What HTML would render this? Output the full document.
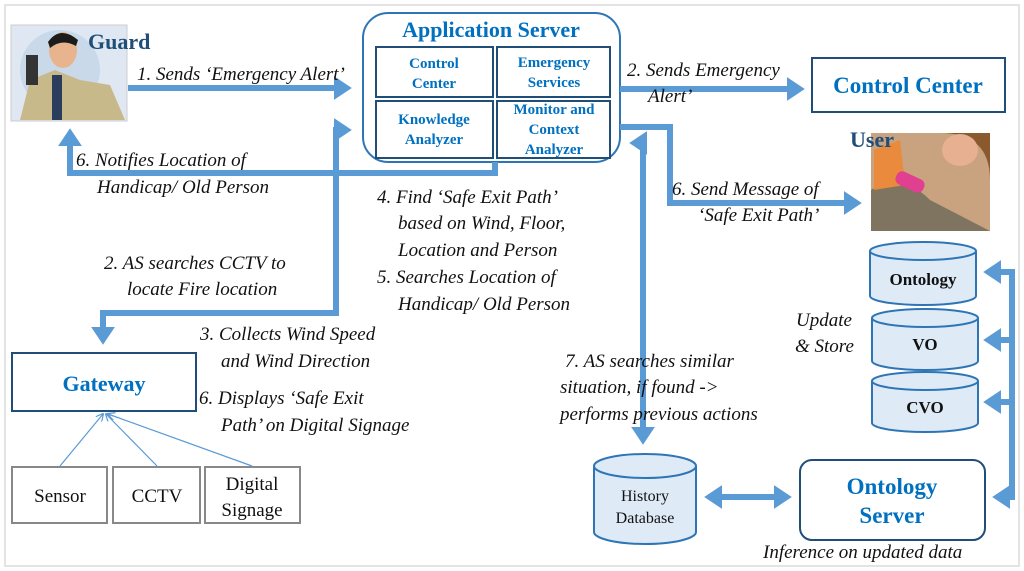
<!DOCTYPE html>
<html><head><meta charset="utf-8"><style>
html,body{margin:0;padding:0;background:#fff;}
svg{display:block;}
.it{font-family:"Liberation Serif",serif;font-style:italic;font-size:19px;fill:#111;}
.bl{font-family:"Liberation Serif",serif;font-weight:bold;fill:#0070C0;}
.sub{font-family:"Liberation Serif",serif;font-weight:bold;fill:#0070C0;font-size:15px;text-anchor:middle;}
.rg{font-family:"Liberation Serif",serif;font-size:19px;fill:#111;text-anchor:middle;}
</style></head><body>
<svg width="1024" height="571" viewBox="0 0 1024 571" xmlns="http://www.w3.org/2000/svg">
<defs>
<marker id="ah" markerWidth="4" markerHeight="4" refX="2.2" refY="2" orient="auto" markerUnits="strokeWidth"><path d="M0,0 L3,2 L0,4 z" fill="#5B9BD5"/></marker>
<marker id="ahs" markerWidth="4" markerHeight="4" refX="2.2" refY="2" orient="auto-start-reverse" markerUnits="strokeWidth"><path d="M0,0 L3,2 L0,4 z" fill="#5B9BD5"/></marker>
<marker id="thin" markerWidth="8" markerHeight="8" refX="7" refY="4" orient="auto" markerUnits="userSpaceOnUse"><path d="M0,0 L8,4 L0,8" fill="none" stroke="#5B9BD5" stroke-width="1.2"/></marker>
</defs>
<rect x="5" y="5" width="1014" height="561" fill="#fff" stroke="#e3e3e3" stroke-width="2"/>

<!-- Guard image -->
<rect x="11" y="25" width="116" height="96" fill="#dfe8f2" stroke="#ccc"/>
<circle cx="60" cy="70" r="40" fill="#c9d9ea"/>
<path d="M20,120 L30,80 L55,70 L80,80 L110,85 L125,120 z" fill="#c8b98a"/>
<rect x="52" y="75" width="10" height="45" fill="#2b3d5c"/>
<ellipse cx="63" cy="50" rx="14" ry="18" fill="#e7b48e"/>
<path d="M48,42 Q60,25 78,40 L76,46 Q62,38 50,48 z" fill="#1b1b1b"/>
<rect x="26" y="55" width="12" height="30" fill="#333"/>
<text x="88" y="49" font-family="Liberation Serif" font-weight="bold" font-size="22" fill="#1F4E79">Guard</text>

<!-- App server -->
<rect x="363" y="13" width="257" height="149" rx="25" fill="#fff" stroke="#2E75B6" stroke-width="2"/>
<text x="491" y="37" class="bl" font-size="22" text-anchor="middle">Application Server</text>
<rect x="376" y="47" width="117" height="50" fill="#fff" stroke="#1F4E79" stroke-width="2"/>
<rect x="497" y="47" width="113" height="50" fill="#fff" stroke="#1F4E79" stroke-width="2"/>
<rect x="376" y="101" width="117" height="57" fill="#fff" stroke="#1F4E79" stroke-width="2"/>
<rect x="497" y="101" width="113" height="57" fill="#fff" stroke="#1F4E79" stroke-width="2"/>
<text class="sub"><tspan x="434" y="68">Control</tspan><tspan x="434" y="88">Center</tspan></text>
<text class="sub"><tspan x="554" y="67">Emergency</tspan><tspan x="554" y="87">Services</tspan></text>
<text class="sub"><tspan x="434" y="124">Knowledge</tspan><tspan x="434" y="144">Analyzer</tspan></text>
<text class="sub"><tspan x="554" y="114">Monitor and</tspan><tspan x="554" y="134">Context</tspan><tspan x="554" y="154">Analyzer</tspan></text>

<!-- Control center -->
<rect x="812" y="58" width="193" height="54" fill="#fff" stroke="#1F4E79" stroke-width="2"/>
<text x="908" y="93" class="bl" font-size="23" text-anchor="middle">Control Center</text>

<!-- User image -->
<rect x="871" y="133" width="119" height="98" fill="#c9a27f"/>
<path d="M871,231 L871,190 Q900,170 930,200 L990,231 z" fill="#7f7460"/>
<path d="M940,133 Q990,133 990,180 L990,133 z" fill="#8a5a2e"/>
<ellipse cx="960" cy="150" rx="18" ry="16" fill="#e6b091"/>
<path d="M874,150 L900,140 L905,185 L874,190 z" fill="#e98a3c"/>
<rect x="895" y="175" width="30" height="14" rx="6" fill="#e0408f" transform="rotate(25 910 182)"/>
<text x="850" y="147" font-family="Liberation Serif" font-weight="bold" font-size="22" fill="#1F4E79">User</text>

<!-- Cylinders -->
<g fill="#DEEBF7" stroke="#2E75B6" stroke-width="2">
<path d="M870,251 L870,296 A53,9 0 0 0 976,296 L976,251"/><ellipse cx="923" cy="251" rx="53" ry="9"/>
<path d="M872,318 L872,361 A53,9 0 0 0 978,361 L978,318"/><ellipse cx="925" cy="318" rx="53" ry="9"/>
<path d="M872,381 L872,423 A53,9 0 0 0 978,423 L978,381"/><ellipse cx="925" cy="381" rx="53" ry="9"/>
<path d="M594,466 L594,532 A51,12 0 0 0 696,532 L696,466"/><ellipse cx="645" cy="466" rx="51" ry="12"/>
</g>
<g font-family="Liberation Serif" font-weight="bold" font-size="17" fill="#111" text-anchor="middle">
<text x="923" y="285">Ontology</text><text x="925" y="350">VO</text><text x="925" y="413">CVO</text>
</g>
<text x="645" y="501" font-family="Liberation Serif" font-size="16" fill="#111" text-anchor="middle">History</text>
<text x="645" y="523" font-family="Liberation Serif" font-size="16" fill="#111" text-anchor="middle">Database</text>

<!-- Ontology server -->
<rect x="800" y="460" width="185" height="80" rx="12" fill="#fff" stroke="#1F4E79" stroke-width="2"/>
<text x="892" y="494" class="bl" font-size="23" text-anchor="middle">Ontology</text>
<text x="892" y="523" class="bl" font-size="23" text-anchor="middle">Server</text>

<!-- Gateway -->
<rect x="12" y="353" width="184" height="58" fill="#fff" stroke="#1F4E79" stroke-width="2"/>
<text x="104" y="391" class="bl" font-size="22" text-anchor="middle">Gateway</text>
<g fill="#fff" stroke="#888" stroke-width="2">
<rect x="12" y="467" width="95" height="56"/><rect x="113" y="467" width="87" height="56"/><rect x="205" y="467" width="95" height="56"/>
</g>
<text x="60" y="502" class="rg">Sensor</text>
<text x="157" y="502" class="rg">CCTV</text>
<text x="252" y="490" class="rg">Digital</text>
<text x="252" y="516" class="rg">Signage</text>
<g stroke="#5B9BD5" stroke-width="1.2" fill="none" marker-end="url(#thin)">
<line x1="60" y1="466" x2="103" y2="414"/><line x1="157" y1="466" x2="106" y2="414"/><line x1="252" y1="466" x2="108" y2="414"/>
</g>

<!-- Thick arrows -->
<g stroke="#5B9BD5" stroke-width="6" fill="none" stroke-linejoin="miter">
<path d="M128,88 L347,88" marker-end="url(#ah)"/>
<path d="M495,162 L495,173 L70,173 L70,133" marker-end="url(#ah)"/>
<path d="M347,130 L336,130 L336,313 L103,313 L103,340" marker-start="url(#ahs)" marker-end="url(#ah)"/>
<path d="M620,89 L800,89" marker-end="url(#ah)"/>
<path d="M620,127 L670,127 L670,203 L857,203" marker-end="url(#ah)"/>
<path d="M643,440 L643,143 L634,143" marker-start="url(#ahs)" marker-end="url(#ah)"/>
<path d="M709,497 L787,497" marker-start="url(#ahs)" marker-end="url(#ah)"/>
<path d="M997,497 L1012,497 L1012,272 L988,272" marker-start="url(#ahs)" marker-end="url(#ah)"/>
<path d="M1012,340 L988,340" marker-end="url(#ah)"/>
<path d="M1012,402 L988,402" marker-end="url(#ah)"/>
</g>

<!-- Labels -->
<text class="it" x="137" y="80">1. Sends ‘Emergency Alert’</text>
<text class="it" x="76" y="166">6. Notifies Location of</text>
<text class="it" x="97" y="193">Handicap/ Old Person</text>
<text class="it" x="377" y="203">4. Find ‘Safe Exit Path’</text>
<text class="it" x="398" y="229">based on Wind, Floor,</text>
<text class="it" x="398" y="256">Location and Person</text>
<text class="it" x="377" y="283">5. Searches Location of</text>
<text class="it" x="398" y="310">Handicap/ Old Person</text>
<text class="it" x="104" y="269">2. AS searches CCTV to</text>
<text class="it" x="127" y="295">locate Fire location</text>
<text class="it" x="200" y="340">3. Collects Wind Speed</text>
<text class="it" x="221" y="367">and Wind Direction</text>
<text class="it" x="199" y="404">6. Displays ‘Safe Exit</text>
<text class="it" x="221" y="431">Path’ on Digital Signage</text>
<text class="it" x="627" y="76">2. Sends Emergency</text>
<text class="it" x="648" y="102">Alert’</text>
<text class="it" x="672" y="195">6. Send Message of</text>
<text class="it" x="698" y="221">‘Safe Exit Path’</text>
<text class="it" x="565" y="367">7. AS searches similar</text>
<text class="it" x="560" y="393">situation, if found -&gt;</text>
<text class="it" x="560" y="420">performs previous actions</text>
<text class="it" x="796" y="326">Update</text>
<text class="it" x="795" y="352">&amp;  Store</text>
<text class="it" x="763" y="558">Inference on updated data</text>
</svg>
</body></html>
